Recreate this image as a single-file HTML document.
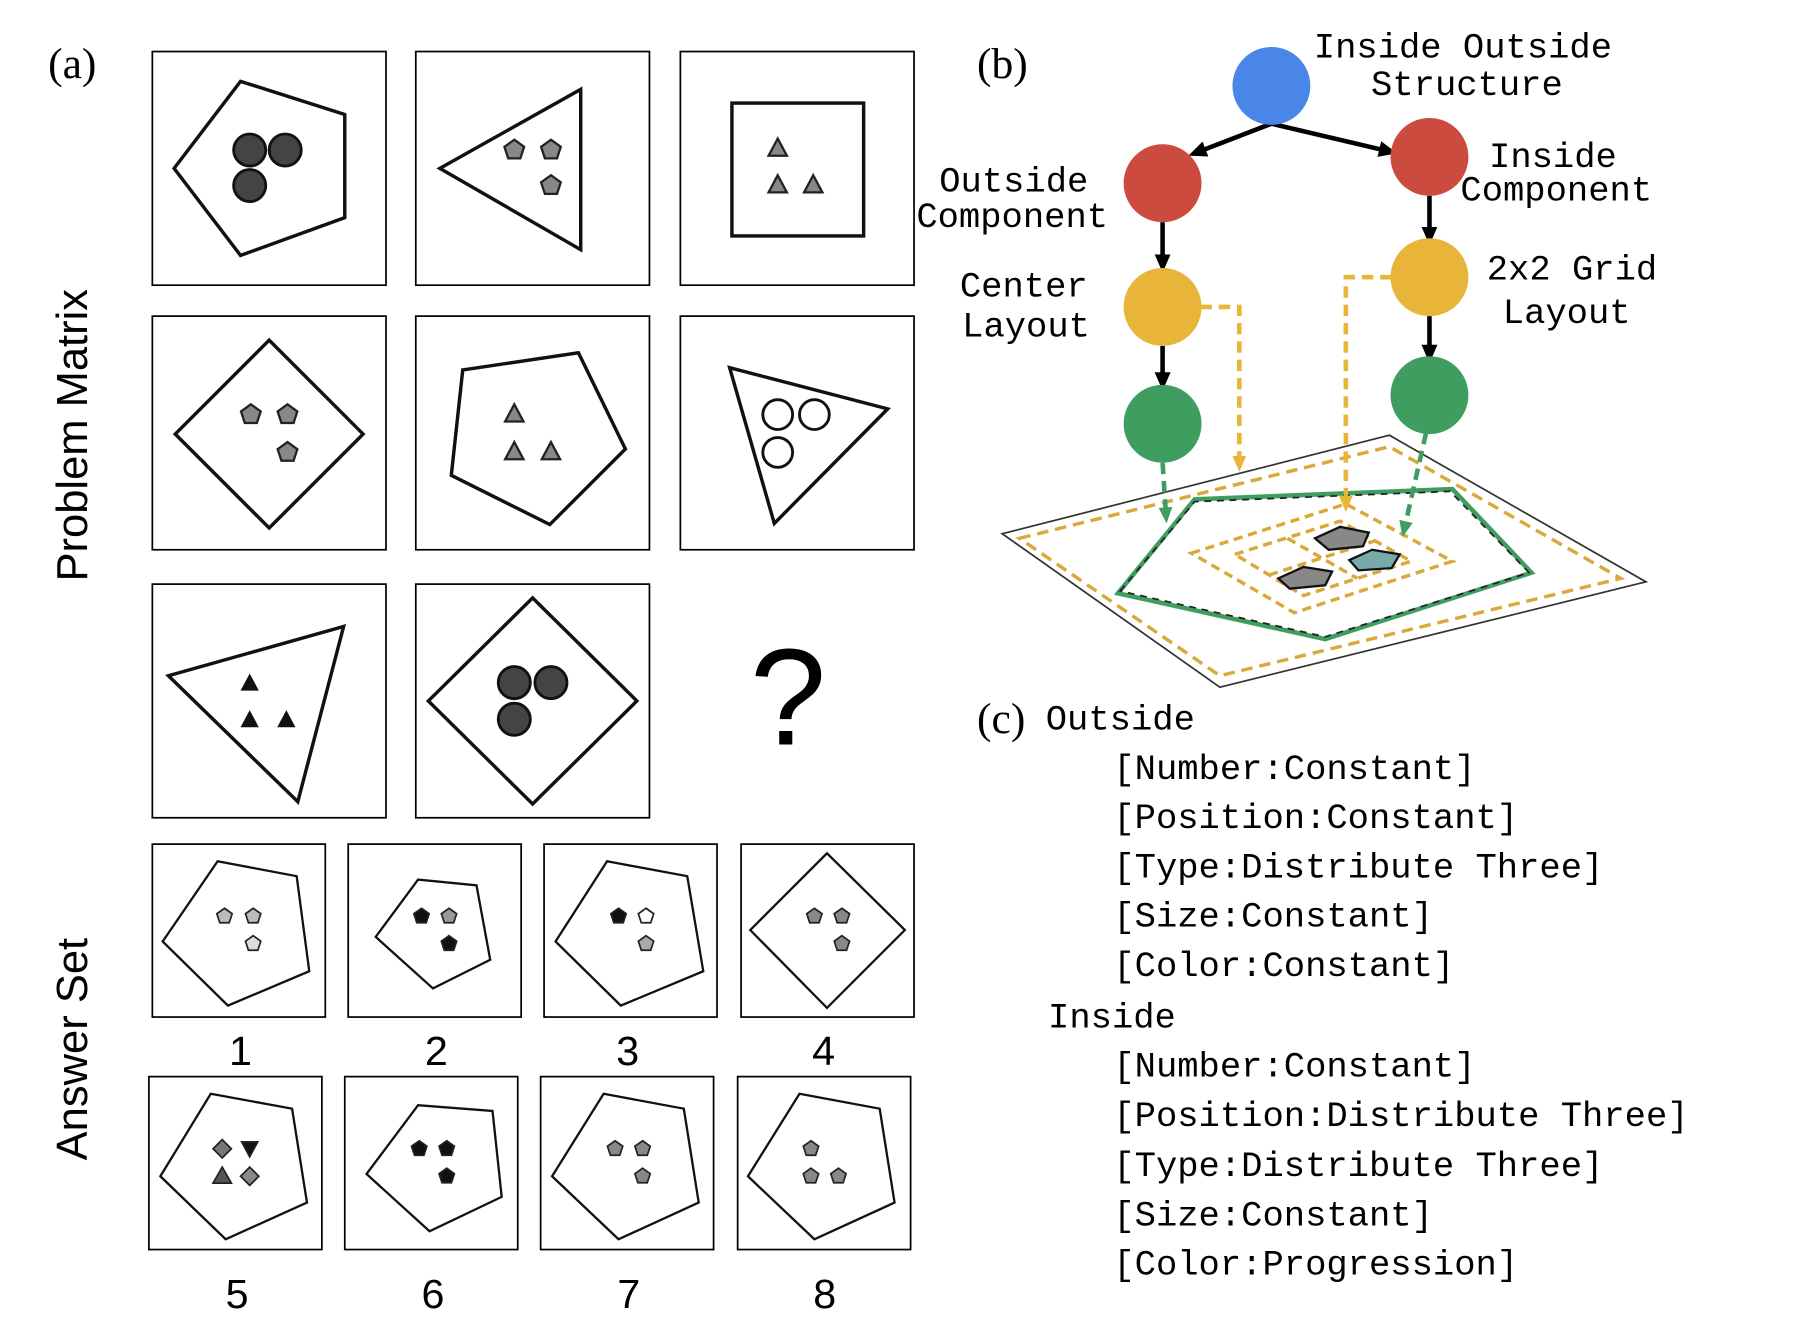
<!DOCTYPE html>
<html><head><meta charset="utf-8"><style>html,body{margin:0;padding:0;background:#fff}svg{display:block}</style></head>
<body>
<svg width="1796" height="1324" viewBox="0 0 1568 1156" preserveAspectRatio="none" xmlns="http://www.w3.org/2000/svg">
<defs>
<marker id="ay" markerWidth="14" markerHeight="14" refX="7" refY="7" orient="auto" markerUnits="userSpaceOnUse"><path d="M0,1 L14,7 L0,13 z" fill="#e8b53a"/></marker>
<marker id="ag" markerWidth="14" markerHeight="14" refX="7" refY="7" orient="auto" markerUnits="userSpaceOnUse"><path d="M0,1 L14,7 L0,13 z" fill="#3f9e5f"/></marker>
<marker id="ak" markerWidth="16" markerHeight="16" refX="8" refY="8" orient="auto" markerUnits="userSpaceOnUse"><path d="M0,1 L16,8 L0,15 z" fill="#000"/></marker>
<g id="pg"><polygon points="0,-9 8.6,-2.8 5.3,7.3 -5.3,7.3 -8.6,-2.8"/></g>
<g id="pgs"><polygon points="0,-7 6.7,-2.2 4.1,5.7 -4.1,5.7 -6.7,-2.2"/></g>
<g id="tr"><polygon points="0,-9 8,6 -8,6"/></g>
</defs>
<text x="42" y="68" font-family="Liberation Serif" font-size="38">(a)</text>
<text transform="translate(76,380) rotate(-90)" text-anchor="middle" font-family="Liberation Sans" font-size="38">Problem Matrix</text>
<text transform="translate(76,916) rotate(-90)" text-anchor="middle" font-family="Liberation Sans" font-size="38">Answer Set</text>
<g fill="none" stroke="#000" stroke-width="1.5">
<rect x="133" y="45" width="204" height="204"/><rect x="363" y="45" width="204" height="204"/><rect x="594" y="45" width="204" height="204"/>
<rect x="133" y="276" width="204" height="204"/><rect x="363" y="276" width="204" height="204"/><rect x="594" y="276" width="204" height="204"/>
<rect x="133" y="510" width="204" height="204"/><rect x="363" y="510" width="204" height="204"/>
<rect x="133" y="737" width="151" height="151"/><rect x="304" y="737" width="151" height="151"/><rect x="475" y="737" width="151" height="151"/><rect x="647" y="737" width="151" height="151"/>
<rect x="130" y="940" width="151" height="151"/><rect x="301" y="940" width="151" height="151"/><rect x="472" y="940" width="151" height="151"/><rect x="644" y="940" width="151" height="151"/>
</g>
<g fill="none" stroke="#111" stroke-width="3">
<polygon points="152,147 210,71 301,100 301,190 210,223"/>
<polygon points="384,147 507,78 507,218"/>
<rect x="639" y="90" width="115" height="116"/>
<polygon points="153,379 235,297 317,379 235,461"/>
<polygon points="404,323 505,308 546,392 480,458 394,415"/>
<polygon points="637,321 775,357 676,457"/>
<polygon points="147,590 300,547 260,700"/>
<polygon points="374,612 465,522 556,612 465,702"/>
</g>
<g stroke="#111" stroke-width="2.5" fill="#444">
<circle cx="218" cy="131" r="14"/><circle cx="249" cy="131" r="14"/><circle cx="218" cy="162" r="14"/>
<circle cx="449" cy="596" r="14"/><circle cx="481" cy="596" r="14"/><circle cx="449" cy="628" r="14"/>
</g>
<g stroke="#111" stroke-width="2.5" fill="#fff">
<circle cx="679" cy="362" r="13"/><circle cx="711" cy="362" r="13"/><circle cx="679" cy="395" r="13"/>
</g>
<g stroke="#222" stroke-width="2" fill="#888">
<use href="#pg" x="449" y="131"/><use href="#pg" x="481" y="131"/><use href="#pg" x="481" y="162"/>
<use href="#pg" x="219" y="362"/><use href="#pg" x="251" y="362"/><use href="#pg" x="251" y="395"/>
<use href="#tr" x="679" y="130"/><use href="#tr" x="679" y="162"/><use href="#tr" x="710" y="162"/>
<use href="#tr" x="449" y="362"/><use href="#tr" x="449" y="395"/><use href="#tr" x="481" y="395"/>
</g>
<g fill="#111"><use href="#tr" x="218" y="597"/><use href="#tr" x="218" y="629"/><use href="#tr" x="250" y="629"/></g>
<text x="688" y="650" text-anchor="middle" font-family="Liberation Sans" font-size="120">?</text>
<g fill="none" stroke="#111" stroke-width="2">
<polygon points="142,822 190,752 259,765 270,848 199,878"/>
<polygon points="328,818 365,768 416,773 428,838 378,863"/>
<polygon points="485,822 530,752 600,765 614,848 542,878"/>
<polygon points="655,812 722,745 790,812 722,880"/>
<polygon points="140,1027 184,955 255,968 268,1050 197,1082"/>
<polygon points="320,1025 365,965 430,970 438,1045 375,1075"/>
<polygon points="482,1027 527,955 597,968 610,1050 540,1082"/>
<polygon points="653,1027 698,955 768,968 781,1050 711,1082"/>
</g>
<g stroke="#222" stroke-width="1.5">
<use href="#pgs" x="196" y="800" fill="#bbb"/><use href="#pgs" x="221" y="800" fill="#bbb"/><use href="#pgs" x="221" y="824" fill="#ddd"/>
<use href="#pgs" x="368" y="800" fill="#111"/><use href="#pgs" x="392" y="800" fill="#999"/><use href="#pgs" x="392" y="824" fill="#111"/>
<use href="#pgs" x="540" y="800" fill="#111"/><use href="#pgs" x="564" y="800" fill="#fff"/><use href="#pgs" x="564" y="824" fill="#aaa"/>
<use href="#pgs" x="711" y="800" fill="#888"/><use href="#pgs" x="735" y="800" fill="#888"/><use href="#pgs" x="735" y="824" fill="#888"/>
<polygon points="194,995 202,1003 194,1011 186,1003" fill="#777"/><polygon points="211,997 225,997 218,1010" fill="#111"/>
<polygon points="194,1019 202,1033 186,1033" fill="#555"/><polygon points="218,1019 226,1027 218,1035 210,1027" fill="#888"/>
<use href="#pgs" x="366" y="1003" fill="#111"/><use href="#pgs" x="390" y="1003" fill="#111"/><use href="#pgs" x="390" y="1027" fill="#111"/>
<use href="#pgs" x="537" y="1003" fill="#888"/><use href="#pgs" x="561" y="1003" fill="#888"/><use href="#pgs" x="561" y="1027" fill="#888"/>
<use href="#pgs" x="708" y="1003" fill="#888"/><use href="#pgs" x="708" y="1027" fill="#888"/><use href="#pgs" x="732" y="1027" fill="#888"/>
</g>
<g font-family="Liberation Sans" font-size="36" text-anchor="middle">
<text x="210" y="930">1</text><text x="381" y="930">2</text><text x="548" y="930">3</text><text x="719" y="930">4</text>
<text x="207" y="1142">5</text><text x="378" y="1142">6</text><text x="549" y="1142">7</text><text x="720" y="1142">8</text>
</g>
<text x="853" y="68" font-family="Liberation Serif" font-size="38">(b)</text>
<polygon points="875,466 1213,380 1437,508 1065,600" fill="#fff" stroke="#333" stroke-width="1.5"/>
<polygon points="890,470 1213,390 1415,505 1065,590" fill="none" stroke="#d9a93a" stroke-width="3" stroke-dasharray="10,6"/>
<polygon points="976,518 1043,436 1268,427 1337,500 1157,558" fill="none" stroke="#3f9e5f" stroke-width="4"/>
<polygon points="978,516 1043,438 1266,429 1335,500 1157,556" fill="none" stroke="#222" stroke-width="1.5" stroke-dasharray="6,5"/>
<g fill="none" stroke="#d9a93a" stroke-width="3" stroke-dasharray="8,5">
<polygon points="1040,483 1175,440 1268,490 1130,535"/>
<polygon points="1078,484 1170,455 1232,490 1138,520"/>
<line x1="1124" y1="470" x2="1185" y2="505"/><line x1="1108" y1="502" x2="1201" y2="472"/>
</g>
<g stroke="#111" stroke-width="2" fill="#888">
<polygon points="1148,470 1170,460 1195,465 1190,477 1160,480"/>
<polygon points="1178,489 1198,480 1222,484 1215,496 1186,498" fill="#7aa"/>
<polygon points="1116,505 1138,495 1163,499 1157,511 1126,514"/>
</g>
<g stroke="#000" stroke-width="4">
<line x1="1110" y1="108" x2="1045" y2="133" marker-end="url(#ak)"/>
<line x1="1110" y1="108" x2="1212" y2="132" marker-end="url(#ak)"/>
<line x1="1015" y1="194" x2="1015" y2="230" marker-end="url(#ak)"/>
<line x1="1015" y1="302" x2="1015" y2="333" marker-end="url(#ak)"/>
<line x1="1248" y1="171" x2="1248" y2="206" marker-end="url(#ak)"/>
<line x1="1248" y1="276" x2="1248" y2="309" marker-end="url(#ak)"/>
</g>
<g fill="none" stroke="#e8b53a" stroke-width="4" stroke-dasharray="10,6">
<polyline points="1048,268 1082,268 1082,405" marker-end="url(#ay)"/>
<polyline points="1215,242 1175,242 1175,440" marker-end="url(#ay)"/>
</g>
<g fill="none" stroke="#3f9e5f" stroke-width="4" stroke-dasharray="10,6">
<line x1="1015" y1="404" x2="1018" y2="450" marker-end="url(#ag)"/>
<line x1="1245" y1="378" x2="1226" y2="462" marker-end="url(#ag)"/>
</g>
<circle cx="1110" cy="75" r="34" fill="#4a86e8"/>
<circle cx="1015" cy="160" r="34" fill="#cc4b3f"/><circle cx="1248" cy="137" r="34" fill="#cc4b3f"/>
<circle cx="1015" cy="268" r="34" fill="#e8b53a"/><circle cx="1248" cy="242" r="34" fill="#e8b53a"/>
<circle cx="1015" cy="370" r="34" fill="#3f9e5f"/><circle cx="1248" cy="345" r="34" fill="#3f9e5f"/>
<g font-family="Liberation Mono" font-size="31">
<text x="1147" y="50">Inside Outside</text><text x="1197" y="83">Structure</text>
<text x="820" y="167">Outside</text><text x="800" y="198">Component</text>
<text x="1300" y="146">Inside</text><text x="1275" y="175">Component</text>
<text x="838" y="259">Center</text><text x="840" y="294">Layout</text>
<text x="1298" y="244">2x2 Grid</text><text x="1312" y="282">Layout</text>
</g>
<text x="853" y="640" font-family="Liberation Serif" font-size="38">(c)</text>
<g font-family="Liberation Mono" font-size="31">
<text x="913" y="637">Outside</text>
<text x="972" y="680">[Number:Constant]</text>
<text x="972" y="723">[Position:Constant]</text>
<text x="972" y="766">[Type:Distribute Three]</text>
<text x="972" y="809">[Size:Constant]</text>
<text x="972" y="852">[Color:Constant]</text>
<text x="915" y="897">Inside</text>
<text x="972" y="940">[Number:Constant]</text>
<text x="972" y="983">[Position:Distribute Three]</text>
<text x="972" y="1027">[Type:Distribute Three]</text>
<text x="972" y="1070">[Size:Constant]</text>
<text x="972" y="1113">[Color:Progression]</text>
</g>
</svg>
</body></html>
